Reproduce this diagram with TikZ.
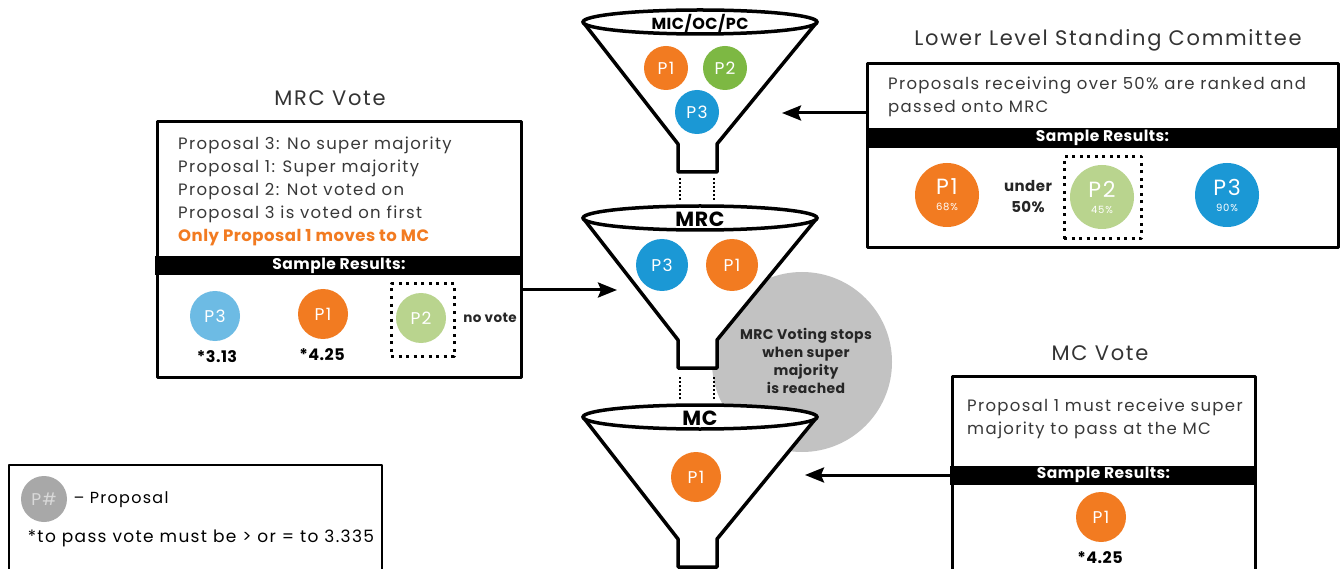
\documentclass[tikz,border=0pt]{standalone}
\usepackage{fontspec}
\setmainfont{Poppins}[LetterSpace=8,BoldFeatures={LetterSpace=3}]
\usetikzlibrary{arrows.meta}
\definecolor{porange}{HTML}{F27B21}
\definecolor{pgreen}{HTML}{7DB843}
\definecolor{pblue}{HTML}{1B98D5}
\definecolor{palegreen}{HTML}{B9D48E}
\definecolor{paleblue}{HTML}{6DBBE4}
\definecolor{stopgray}{HTML}{C2C2C2}
\definecolor{keygray}{HTML}{A8A8A8}
\begin{document}
\begin{tikzpicture}[x=1pt,y=-1pt,line join=round,line cap=round,>={Stealth[length=19pt,width=15pt,inset=3pt]}]
        \tikzset{heading/.style={font=\fontsize{21}{24}\selectfont,text=black!80},
                 body/.style={font=\fontsize{16.5}{23}\selectfont,text=black!78,align=left,anchor=west,inner sep=0pt},
                 panel/.style={draw,line width=3pt},
                 resultbar/.style={fill=black,text=white,inner sep=0pt,font=\bfseries\fontsize{15.5}{16}\selectfont},
                 prop/.style={circle,inner sep=0pt,minimum size=50pt,text=white,font=\fontsize{17}{18}\selectfont},
                 bigprop/.style={prop,minimum size=64pt,align=center},
                 score/.style={font=\bfseries\fontsize{16}{16}\selectfont},
                 note/.style={font=\bfseries\fontsize{14}{18}\selectfont,align=center,text=black!85},
                 dotbox/.style={draw,line width=3pt,line cap=butt,dash pattern=on 3pt off 4.5pt},
                 funnel/.style={draw,line width=3.5pt,fill=white},
                 tag/.style={font=\bfseries\fontsize{20.5}{20}\selectfont},
                 arrowline/.style={->,line width=3pt,line cap=butt}}
        \def \twoline#1#2{{\fontsize{22}{18}\selectfont #1}\\[-2pt]{\fontsize{10}{10}\selectfont #2}}
        \useasboundingbox (0,0) rectangle (1341,569);
        \fill[white] (0,0) rectangle (1341,569);
        \fill[stopgray] (802,362) circle (90pt);
        \foreach \yc in {22,218,417}{
            \draw[funnel] (583,\yc)--(678,\yc+122)--(678,\yc+150)--(717,\yc+150)--(717,\yc+122)--(817,\yc)--cycle;
            \draw[funnel] (700,\yc) ellipse (117pt and 12pt);
        }
        \foreach \yc in {178,377}{
            \draw[line width=2pt,line cap=butt,dash pattern=on 2pt off 2pt] (680,\yc)--(680,\yc+22) (714,\yc)--(714,\yc+22);
        }
        \node[note] (stopnote) at (806,361) {MRC Voting stops\\when super\\majority\\is reached};
        \node[tag,font=\bfseries\fontsize{16}{20}\selectfont] (mictag) at (700,23) {MIC/OC/PC};
        \node[tag] (mrctag) at (700,219) {MRC};
        \node[tag] (mctag) at (700,418) {MC};
        \node[prop,minimum size=44pt,fill=porange] (micp1) at (666,68) {P1};
        \node[prop,minimum size=44pt,fill=pgreen] (micp2) at (725,68) {P2};
        \node[prop,minimum size=44pt,fill=pblue] (micp3) at (697,112) {P3};
        \node[prop,minimum size=52pt,fill=pblue] (mrcp3) at (662,265) {P3};
        \node[prop,minimum size=52pt,fill=porange] (mrcp1) at (732,265) {P1};
        \node[prop,fill=porange] (mcp1) at (696,477) {P1};
        % lower level standing committee
        \node[heading] (lltitle) at (1108,40) {Lower Level Standing Committee};
        \node[panel,minimum width=471pt,minimum height=184pt] (llbox) at (1102.5,156) {};
        \node[body] (lltext) at (888,97) {Proposals receiving over 50\% are ranked and\\passed onto MRC};
        \node[resultbar,minimum width=471pt,minimum height=20pt] (llbar) at (1102.5,138) {Sample Results:};
        \node[bigprop,fill=porange] (llp1) at (947,195) {\twoline{P1}{68\%}};
        \node[note,font=\bfseries\fontsize{15}{21}\selectfont] (under) at (1028,197) {under\\50\%};
        \node[dotbox,minimum width=77pt,minimum height=82pt] (llskip) at (1102.5,198) {};
        \node[bigprop,fill=palegreen] (llp2) at (1102,197) {\twoline{P2}{45\%}};
        \node[bigprop,fill=pblue] (llp3) at (1227,195) {\twoline{P3}{90\%}};
        \coordinate (micin) at (782,113);
        \draw[arrowline] (llbox.west |- micin)--(micin);
        % mrc vote
        \node[heading] (mrctitle) at (330,98) {MRC Vote};
        \node[panel,minimum width=364pt,minimum height=255pt] (mrcbox) at (339,249.5) {};
        \node[body] (mrctext) at (178,191) {Proposal 3: No super majority\\Proposal 1: Super majority\\Proposal 2: Not voted on\\Proposal 3 is voted on first\\{\bfseries\addfontfeatures{LetterSpace=9}\color{porange}Only Proposal 1 moves to MC}};
        \node[resultbar,minimum width=368pt,minimum height=19pt] (mrcbar) at (339,266) {Sample Results:};
        \node[prop,fill=paleblue] (mrcr3) at (215,316) {P3};
        \node[prop,fill=porange] (mrcr1) at (323,314) {P1};
        \node[dotbox,minimum width=63pt,minimum height=72pt] (mrcskip) at (422.5,320) {};
        \node[prop,fill=palegreen] (mrcr2) at (421,318) {P2};
        \node[note,font=\bfseries\fontsize{13.5}{14}\selectfont] (novote) at (490,318) {no vote};
        \node[score] (score3) at (217,357) {*3.13};
        \node[score] (score1) at (322,355) {*4.25};
        \coordinate (mrcin) at (617,290);
        \draw[arrowline] (mrcbox.east |- mrcin)--(mrcin);
        % mc vote
        \node[heading] (mctitle) at (1100,353) {MC Vote};
        \node[panel,minimum width=303pt,minimum height=240pt] (mcbox) at (1103.5,496) {};
        \node[body] (mctext) at (967,419) {Proposal 1 must receive super\\majority to pass at the MC};
        \node[resultbar,minimum width=307pt,minimum height=19pt] (mcbar) at (1103.5,475) {Sample Results:};
        \node[prop,fill=porange] (mcr1) at (1101,517) {P1};
        \node[score] (mcscore) at (1100,558) {*4.25};
        \coordinate (mcin) at (805,475);
        \draw[arrowline] (mcbox.west |- mcin)--(mcin);
        % key
        \node[draw,line width=1.8pt,minimum width=373pt,minimum height=140pt] (keybox) at (195.5,535) {};
        \node[prop,minimum size=46pt,fill=keygray,text=white!85!black] (keyp) at (44,499) {P\#};
        \node[anchor=west,font=\fontsize{16}{18}\selectfont] (keytext) at (70,500) {-- Proposal};
        \node[font=\fontsize{17}{18}\selectfont] (passnote) at (201,538) {*to pass vote must be > or = to 3.335};
\end{tikzpicture}
\end{document}
